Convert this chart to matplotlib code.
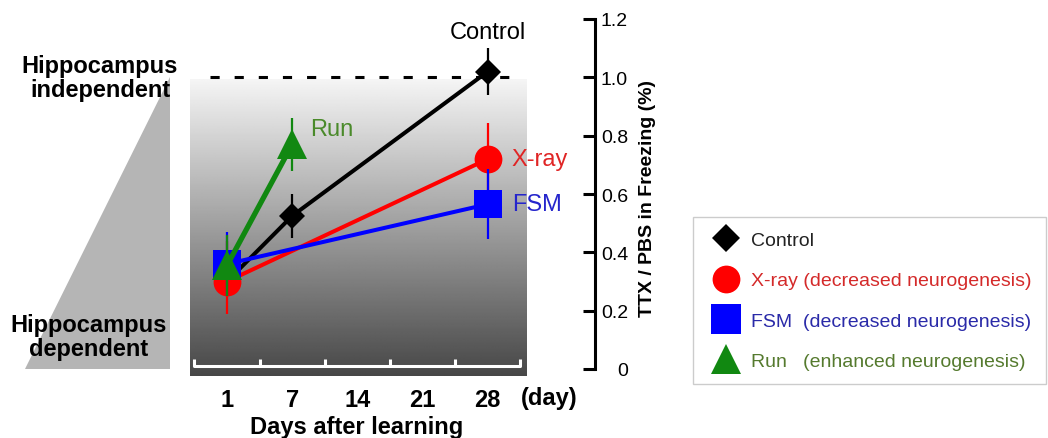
import matplotlib
matplotlib.use('Agg')
import matplotlib.pyplot as plt
import numpy as np
from matplotlib.lines import Line2D
from matplotlib.patches import Polygon

plt.rcParams['font.family'] = ['Liberation Sans', 'DejaVu Sans']

# ---------------- data ----------------
day_labels = ['1', '7', '14', '21', '28']

control_days = ['1', '7', '28']
control_vals = [0.30, 0.525, 1.02]
control_err = [0.05, 0.075, 0.08]

xray_days = ['1', '28']
xray_vals = [0.30, 0.72]
xray_err_low = [0.11, 0.125]
xray_err_high = [0.14, 0.125]

fsm_days = ['1', '28']
fsm_vals = [0.36, 0.565]
fsm_err = [0.11, 0.12]

run_days = ['1', '7']
run_vals = [0.355, 0.77]
run_err = [0.105, 0.09]

reference_level = 1.0
y_ticks = [0, 0.2, 0.4, 0.6, 0.8, 1.0, 1.2]
y_tick_labels = ['0', '0.2', '0.4', '0.6', '0.8', '1.0', '1.2']

legend_labels = ['Control',
                 'X-ray (decreased neurogenesis)',
                 'FSM  (decreased neurogenesis)',
                 'Run   (enhanced neurogenesis)']

# ---------------- figure ----------------
W, H = 1048, 439
fig = plt.figure(figsize=(W / 100, H / 100), dpi=100)
ax = fig.add_axes([190 / W, 62 / H, 405 / W, 357 / H])

pos = {d: i for i, d in enumerate(day_labels)}
n = len(day_labels)

# gradient background
grad = np.linspace(0.28, 0.96, 256).reshape(-1, 1)
ax.imshow(grad, cmap='gray', vmin=0, vmax=1, origin='lower',
          extent=(-0.5675, 4.601, -0.024, 0.994), aspect='auto',
          interpolation='bilinear', zorder=0)

# white ruler at bottom
ax.plot([-0.5, n - 0.5], [0.01, 0.01], color='white', lw=2.2,
        solid_capstyle='round', zorder=1)
ax.vlines(np.arange(n + 1) - 0.5, 0.01, 0.036, color='white', lw=2.2, zorder=1)

# reference dashed line
ax.plot([-0.26, 4.37], [reference_level, reference_level], color='black',
        lw=2.2, dashes=(3, 4.9), zorder=2)


def draw(days, vals, err, color, marker, ms, lw, z):
    xs = [pos[d] for d in days]
    ax.errorbar(xs, vals, yerr=err, color=color, ecolor=color, marker=marker,
                ms=ms, mew=0, lw=lw, elinewidth=1.6, capsize=4.5,
                capthick=1.6, zorder=z)


draw(control_days, control_vals, control_err, 'black', 'D', 13, 2.9, 3)
draw(xray_days, xray_vals, [xray_err_low, xray_err_high], '#ff0000', 'o', 20, 2.9, 4)
draw(fsm_days, fsm_vals, fsm_err, '#0000ff', 's', 20, 2.9, 5)
draw(run_days, run_vals, run_err, '#118811', '^', 22, 3.8, 6)

# series labels
ax.text(pos['28'], 1.155, 'Control', ha='center', va='center', fontsize=17, color='black')
ax.text(4.37, xray_vals[-1], 'X-ray', ha='left', va='center', fontsize=17, color='#e02525')
ax.text(4.37, fsm_vals[-1], 'FSM', ha='left', va='center', fontsize=17, color='#2525cc')
ax.text(1.27, 0.823, 'Run', ha='left', va='center', fontsize=17, color='#4a8a2a')

ax.set_xlim(-0.5675, 5.644)
ax.set_ylim(-0.024, 1.2)

# axes styling
for s in ['top', 'left', 'bottom']:
    ax.spines[s].set_visible(False)
ax.spines['right'].set_bounds(0, 1.2)
ax.spines['right'].set_linewidth(2.2)
ax.yaxis.tick_right()
ax.set_yticks(y_ticks)
ax.set_yticklabels(y_tick_labels)
ax.tick_params(axis='y', direction='in', length=8.6, width=2.2, pad=23.8, labelsize=14)
for lab in ax.get_yticklabels():
    lab.set_ha('right')

ax.set_xticks(range(n))
ax.set_xticklabels(day_labels, fontsize=17, fontweight='bold')
ax.tick_params(axis='x', length=0, pad=9)

ax.set_xlabel('Days after learning', fontsize=17, fontweight='bold')
ax.xaxis.set_label_coords((357 - 190) / 405, -0.11)
ax.set_ylabel('TTX / PBS in Freezing (%)', fontsize=14, fontweight='bold')
ax.yaxis.set_label_position('right')
ax.yaxis.set_label_coords((639 - 190) / 405, 0.501)

fig.text(549 / W, 1 - 399 / H, '(day)', ha='center', va='center',
         fontsize=17, fontweight='bold')

# left gray triangle
tri = Polygon([(25 / W, 1 - 370 / H), (170 / W, 1 - 370 / H), (170 / W, 1 - 78 / H)],
              closed=True, facecolor='#b5b5b5', edgecolor='none',
              transform=fig.transFigure, zorder=0)
fig.add_artist(tri)
fig.text(100 / W, 1 - 78.5 / H, 'Hippocampus\nindependent', ha='center', va='center',
         fontsize=17, fontweight='bold', linespacing=1.05, multialignment='center')
fig.text(89 / W, 1 - 337.5 / H, 'Hippocampus\ndependent', ha='center', va='center',
         fontsize=17, fontweight='bold', linespacing=1.05, multialignment='center')

# legend
handles = [
    Line2D([], [], ls='none', marker='D', ms=14, mew=0, color='black'),
    Line2D([], [], ls='none', marker='o', ms=20, mew=0, color='#ff0000'),
    Line2D([], [], ls='none', marker='s', ms=21, mew=0, color='#0000ff'),
    Line2D([], [], ls='none', marker='^', ms=21, mew=0, color='#118811'),
]
leg = fig.legend(handles, legend_labels, loc='upper left',
                 bbox_to_anchor=(693 / W, 1 - 218 / H), fontsize=14,
                 frameon=True, fancybox=False, edgecolor='#c0c0c0',
                 borderpad=0.75, labelspacing=1.16, handlelength=1.9,
                 handletextpad=0.35, borderaxespad=0,
                 labelcolor=['#222222', '#d42a2a', '#2a2aa8', '#557a2e'])
leg.get_frame().set_linewidth(1)

fig.savefig('out.png', dpi=100)
